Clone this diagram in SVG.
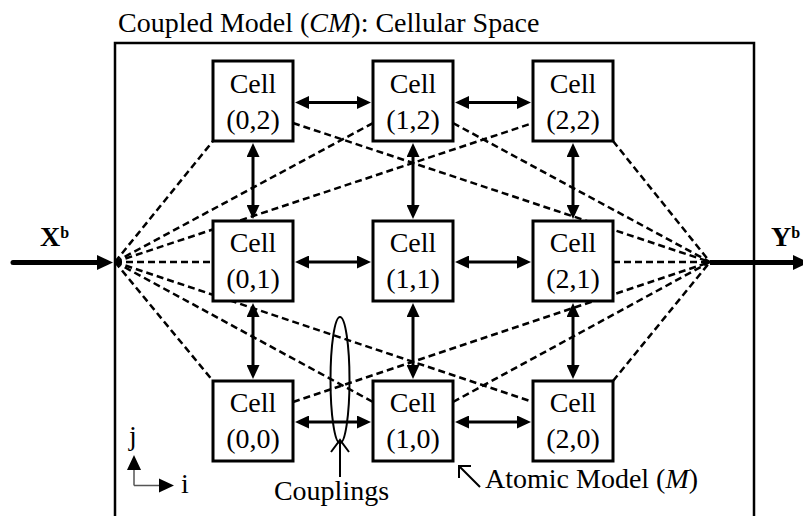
<svg xmlns="http://www.w3.org/2000/svg" width="803" height="516" viewBox="0 0 803 516">
<defs>
<style>
.t{font-family:"Liberation Serif","Times New Roman",serif;font-size:28px;fill:#000}
.c{text-anchor:middle}
.cell rect{fill:#fff;stroke:#000;stroke-width:3}
.dash{fill:none;stroke:#000;stroke-width:2.5;stroke-dasharray:7 4}
.sol{fill:none;stroke:#000;stroke-width:3;marker-start:url(#ah);marker-end:url(#ah)}
.thin{fill:none;stroke:#000;stroke-width:2}
.ax{fill:none;stroke:#555;stroke-width:1.5}
</style>
<marker id="ah" markerUnits="userSpaceOnUse" markerWidth="14" markerHeight="13" refX="10" refY="6.5" orient="auto-start-reverse" viewBox="0 0 14 13">
<path d="M0,0 L14,6.5 L0,13 z" fill="#000"/>
</marker>
<marker id="big" markerUnits="userSpaceOnUse" markerWidth="16" markerHeight="15" refX="9" refY="7.5" orient="auto" viewBox="0 0 16 15">
<path d="M0,0 L16,7.5 L0,15 z" fill="#000"/>
</marker>
</defs>
<rect width="803" height="516" fill="#fff"/>

<g id="coupled-model">
<rect x="115" y="43" width="639" height="500" fill="none" stroke="#000" stroke-width="2.5"/>
<text class="t" x="118" y="32">Coupled Model (<tspan font-style="italic">CM</tspan>): Cellular Space</text>
</g>

<g id="connectors">
<g id="dashed">
<path class="dash" d="M115,262 L213,141"/>
<path class="dash" d="M115,262 L373,123"/>
<path class="dash" d="M115,262 L533,123"/>
<path class="dash" d="M115,262 L213,262"/>
<path class="dash" d="M115,262 L213,381"/>
<path class="dash" d="M115,262 L373,402"/>
<path class="dash" d="M115,262 L533,402"/>
<path class="dash" d="M613,141 L710,262"/>
<path class="dash" d="M453,123 L710,262"/>
<path class="dash" d="M293,123 L710,262"/>
<path class="dash" d="M613,262 L710,262"/>
<path class="dash" d="M613,381 L710,262"/>
<path class="dash" d="M453,402 L710,262"/>
<path class="dash" d="M293,402 L710,262"/>
</g>
<path d="M13,262.5 L106,262.5" stroke="#000" stroke-width="5" stroke-linecap="round" fill="none" marker-end="url(#big)"/>
<path d="M710,262.5 L802,262.5" stroke="#000" stroke-width="5" fill="none" marker-end="url(#big)"/>
<g id="solid">
<path class="sol" d="M299,102.5 L367,102.5"/>
<path class="sol" d="M459,102.5 L527,102.5"/>
<path class="sol" d="M299,262 L367,262"/>
<path class="sol" d="M459,262 L527,262"/>
<path class="sol" d="M299,422 L367,422"/>
<path class="sol" d="M459,422 L527,422"/>
<path class="sol" d="M253,147 L253,215"/>
<path class="sol" d="M413,147 L413,215"/>
<path class="sol" d="M573,147 L573,215"/>
<path class="sol" d="M253,307 L253,375"/>
<path class="sol" d="M413,307 L413,375"/>
<path class="sol" d="M573,307 L573,375"/>
</g>
</g>

<g id="cell-0-2" class="cell"><rect x="213" y="61" width="80" height="80"/><text class="t c" x="253" y="93">Cell</text><text class="t c" x="253" y="129">(0,2)</text></g>
<g id="cell-1-2" class="cell"><rect x="373" y="61" width="80" height="80"/><text class="t c" x="413" y="93">Cell</text><text class="t c" x="413" y="129">(1,2)</text></g>
<g id="cell-2-2" class="cell"><rect x="533" y="61" width="80" height="80"/><text class="t c" x="573" y="93">Cell</text><text class="t c" x="573" y="129">(2,2)</text></g>
<g id="cell-0-1" class="cell"><rect x="213" y="221" width="80" height="80"/><text class="t c" x="253" y="252">Cell</text><text class="t c" x="253" y="288">(0,1)</text></g>
<g id="cell-1-1" class="cell"><rect x="373" y="221" width="80" height="80"/><text class="t c" x="413" y="252">Cell</text><text class="t c" x="413" y="288">(1,1)</text></g>
<g id="cell-2-1" class="cell"><rect x="533" y="221" width="80" height="80"/><text class="t c" x="573" y="252">Cell</text><text class="t c" x="573" y="288">(2,1)</text></g>
<g id="cell-0-0" class="cell"><rect x="213" y="381" width="80" height="80"/><text class="t c" x="253" y="412">Cell</text><text class="t c" x="253" y="448">(0,0)</text></g>
<g id="cell-1-0" class="cell"><rect x="373" y="381" width="80" height="80"/><text class="t c" x="413" y="412">Cell</text><text class="t c" x="413" y="448">(1,0)</text></g>
<g id="cell-2-0" class="cell"><rect x="533" y="381" width="80" height="80"/><text class="t c" x="573" y="412">Cell</text><text class="t c" x="573" y="448">(2,0)</text></g>

<g id="input-label"><text class="t" x="40" y="246" font-weight="bold">X<tspan font-size="16" dy="-8">b</tspan></text></g>
<g id="output-label"><text class="t" x="771" y="246" font-weight="bold">Y<tspan font-size="16" dy="-8">b</tspan></text></g>

<g id="couplings">
<ellipse class="thin" cx="340" cy="380" rx="9.5" ry="63"/>
<path class="thin" d="M340,477 L340,440 M331,452 L340,440 L349,452"/>
<text class="t c" x="331.5" y="500">Couplings</text>
</g>

<g id="atomic-model">
<path class="thin" d="M480,487 L459,466 M459,478 L459,466 L471,466"/>
<text class="t" x="485" y="488">Atomic Model (<tspan font-style="italic">M</tspan>)</text>
</g>

<g id="axes">
<path class="ax" d="M134,485.5 L134,468 M134,485.5 L161,485.5"/>
<polygon points="134,455 141,470 127,470" fill="#000"/>
<polygon points="174,485.5 159,478.5 159,492.5" fill="#000"/>
<text class="t" x="129" y="445" font-size="24">j</text>
<text class="t" x="181" y="493" font-size="24">i</text>
</g>
</svg>
